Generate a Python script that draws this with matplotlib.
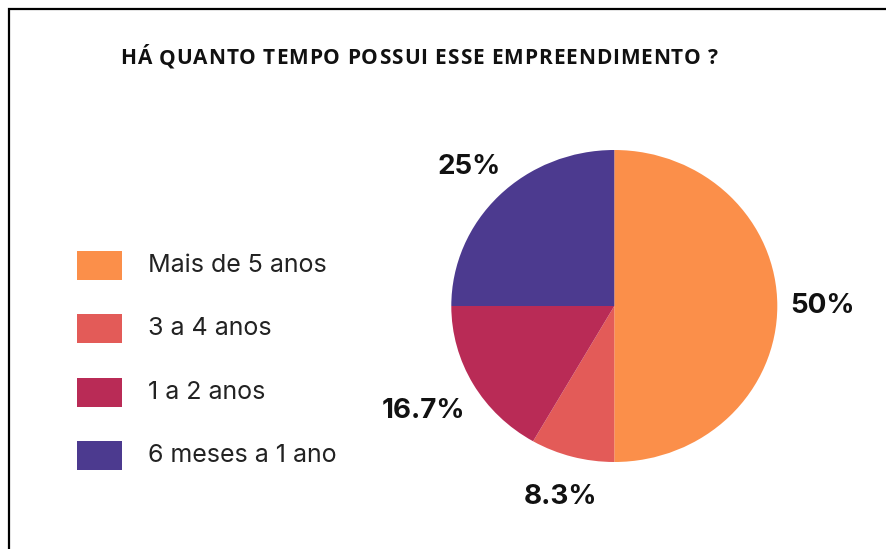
import matplotlib
matplotlib.use("Agg")
import matplotlib.pyplot as plt
import numpy as np
from matplotlib.patches import Rectangle
from matplotlib.font_manager import FontProperties

categories = ["Mais de 5 anos", "3 a 4 anos", "1 a 2 anos", "6 meses a 1 ano"]
values = [50, 8.3, 16.7, 25]
pct_labels = ["50%", "8.3%", "16.7%", "25%"]
colors = ["#FB8F4A", "#E35B58", "#B92B56", "#4C3A8F"]
title = "HÁ QUANTO TEMPO POSSUI ESSE EMPREENDIMENTO ?"

W, H = 887, 549
fig = plt.figure(figsize=(W / 100, H / 100), dpi=100)
fig.patch.set_facecolor("white")

# pie axes (slightly wider than tall, as in the reference image)
cx, cy, rx, ry = 614.3, 306, 163, 156
ax = fig.add_axes([(cx - rx) / W, (H - cy - ry) / H, 2 * rx / W, 2 * ry / H])
wedges, _ = ax.pie(values, colors=colors, startangle=90, counterclock=False,
                   radius=1, wedgeprops=dict(linewidth=0))
ax.set_xlim(-1, 1)
ax.set_ylim(-1, 1)
ax.set_aspect("auto")
ax.axis("off")

dists = [1.28, 1.27, 1.35, 1.26]
for w, lab, d in zip(wedges, pct_labels, dists):
    ang = np.deg2rad((w.theta1 + w.theta2) / 2)
    ax.text(d * np.cos(ang), d * np.sin(ang), lab, ha="center", va="center",
            fontsize=20, fontweight="bold", family="Inter", color="#111111",
            clip_on=False)

# title with slight letter spacing (tracking), drawn char by char
title_fp = FontProperties(family="Open Sans", weight="bold", size=15)
renderer = fig.canvas.get_renderer()


def text_w(s):
    w, h, d = renderer.get_text_width_height_descent(s, title_fp, ismath=False)
    return w


hh = text_w("HH")
adv = [text_w("H" + ch + "H") - hh for ch in title]
x0, x1 = 120, 718
extra = ((x1 - x0) - sum(adv[:-1]) - text_w(title[-1])) / (len(title) - 1)
x = x0
ty = 1 - 56 / H
for ch, a in zip(title, adv):
    if ch != " ":
        fig.text(x / W, ty, ch, ha="left", va="center_baseline",
                 fontproperties=title_fp, color="#111111")
    x += a + extra

# legend (manual)
leg_x, leg_y0, step, bw, bh = 77, 251, 63.3, 45, 29
for i, (c, lab) in enumerate(zip(colors, categories)):
    top = leg_y0 + i * step
    fig.patches.append(Rectangle((leg_x / W, 1 - (top + bh) / H), bw / W, bh / H,
                                 transform=fig.transFigure, facecolor=c,
                                 edgecolor="none"))
    fig.text(148 / W, 1 - (top + bh / 2) / H, lab, ha="left", va="center",
             fontsize=18, family="Inter", color="#222222")

# border
fig.patches.append(Rectangle((9 / W, -0.05), 1.2, 1 - 9 / H + 0.05,
                             transform=fig.transFigure, fill=False,
                             edgecolor="black", linewidth=1.6))

fig.savefig("out.png", dpi=100)
